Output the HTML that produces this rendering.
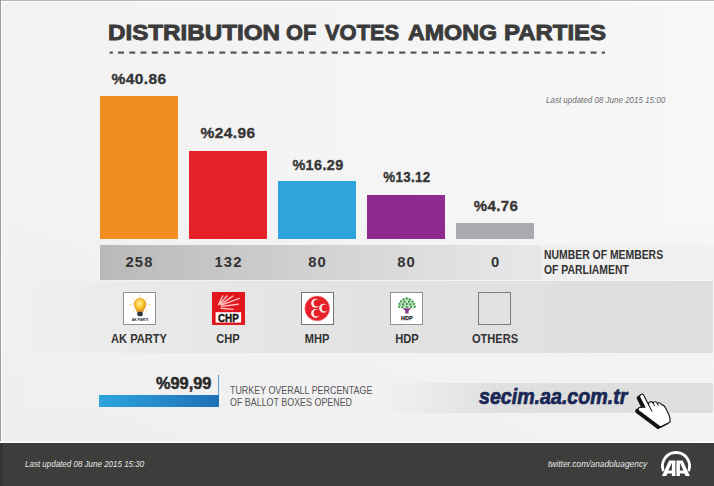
<!DOCTYPE html>
<html><head><meta charset="utf-8">
<style>
*{margin:0;padding:0;box-sizing:border-box}
html,body{width:714px;height:486px;overflow:hidden;background:#f4f4f4}
body{background:linear-gradient(180deg,rgba(0,0,0,0) 0%,rgba(0,0,0,0) 40%,rgba(0,0,0,0.02) 100%),linear-gradient(90deg,#f2f2f2 0%,#f4f4f4 45%,#f7f7f7 100%)}
body{position:relative;font-family:"Liberation Sans",sans-serif}
.a{position:absolute;white-space:nowrap}
.bar{position:absolute;width:78px;bottom:247px}
.pct{position:absolute;font-weight:bold;font-size:15.5px;color:#353535;letter-spacing:0.4px;-webkit-text-stroke:0.35px #353535;text-align:center;width:100px;line-height:1}
.num{position:absolute;font-weight:bold;font-size:14.8px;color:#333;letter-spacing:1.2px;text-indent:1.2px;text-align:center;width:80px;line-height:1;top:254.5px}
.lbl{position:absolute;font-weight:bold;font-size:12.2px;color:#333;text-align:center;width:100px;line-height:1;top:333px;transform:scaleX(0.91)}
.box{position:absolute;top:292px;width:33px;height:33px;border:1.5px solid #929292;background:#fff}
.t{top:21.5px;font-size:22.2px;font-weight:bold;color:#3b3b3b;line-height:1;-webkit-text-stroke:0.9px #3b3b3b;transform-origin:0 0}
</style></head><body>
<!-- frame -->
<div class="a" style="left:0;top:0;width:714px;height:1px;background:#b5b5b5"></div>
<div class="a" style="left:0;top:1px;width:714px;height:1px;background:#fff"></div>
<div class="a" style="left:0;top:0;width:1px;height:486px;background:#9a9a9a"></div>
<div class="a" style="left:1px;top:1px;width:1px;height:440px;background:#fff"></div>

<!-- title -->
<div id="title"><div class="a t" style="left:107.99px;transform:scaleX(1.0897)">DISTRIBUTION</div><div class="a t" style="left:286.09px;transform:scaleX(0.9788)">OF</div><div class="a t" style="left:325.00px;transform:scaleX(0.9867)">VOTES</div><div class="a t" style="left:408.41px;transform:scaleX(1.0468)">AMONG</div><div class="a t" style="left:504.00px;transform:scaleX(1.0800)">PARTIES</div></div>
<svg class="a" style="left:0;top:0" width="714" height="60" fill="#555"><rect x="109.6" y="51.5" width="3.2" height="2.2"/><rect x="118.00" y="51.5" width="6" height="2.2"/><rect x="129.25" y="51.5" width="6" height="2.2"/><rect x="140.50" y="51.5" width="6" height="2.2"/><rect x="151.75" y="51.5" width="6" height="2.2"/><rect x="163.00" y="51.5" width="6" height="2.2"/><rect x="174.25" y="51.5" width="6" height="2.2"/><rect x="185.50" y="51.5" width="6" height="2.2"/><rect x="196.75" y="51.5" width="6" height="2.2"/><rect x="208.00" y="51.5" width="6" height="2.2"/><rect x="219.25" y="51.5" width="6" height="2.2"/><rect x="230.50" y="51.5" width="6" height="2.2"/><rect x="241.75" y="51.5" width="6" height="2.2"/><rect x="253.00" y="51.5" width="6" height="2.2"/><rect x="264.25" y="51.5" width="6" height="2.2"/><rect x="275.50" y="51.5" width="6" height="2.2"/><rect x="286.75" y="51.5" width="6" height="2.2"/><rect x="298.00" y="51.5" width="6" height="2.2"/><rect x="309.25" y="51.5" width="6" height="2.2"/><rect x="320.50" y="51.5" width="6" height="2.2"/><rect x="331.75" y="51.5" width="6" height="2.2"/><rect x="343.00" y="51.5" width="6" height="2.2"/><rect x="354.25" y="51.5" width="6" height="2.2"/><rect x="365.50" y="51.5" width="6" height="2.2"/><rect x="376.75" y="51.5" width="6" height="2.2"/><rect x="388.00" y="51.5" width="6" height="2.2"/><rect x="399.25" y="51.5" width="6" height="2.2"/><rect x="410.50" y="51.5" width="6" height="2.2"/><rect x="421.75" y="51.5" width="6" height="2.2"/><rect x="433.00" y="51.5" width="6" height="2.2"/><rect x="444.25" y="51.5" width="6" height="2.2"/><rect x="455.50" y="51.5" width="6" height="2.2"/><rect x="466.75" y="51.5" width="6" height="2.2"/><rect x="478.00" y="51.5" width="6" height="2.2"/><rect x="489.25" y="51.5" width="6" height="2.2"/><rect x="500.50" y="51.5" width="6" height="2.2"/><rect x="511.75" y="51.5" width="6" height="2.2"/><rect x="523.00" y="51.5" width="6" height="2.2"/><rect x="534.25" y="51.5" width="6" height="2.2"/><rect x="545.50" y="51.5" width="6" height="2.2"/><rect x="556.75" y="51.5" width="6" height="2.2"/><rect x="568.00" y="51.5" width="6" height="2.2"/><rect x="579.25" y="51.5" width="6" height="2.2"/><rect x="590.50" y="51.5" width="6" height="2.2"/><rect x="601.7" y="51.5" width="3.2" height="2.2"/></svg>

<div class="a" style="left:546px;top:96px;font-size:9.3px;font-style:italic;color:#707070;line-height:1;transform-origin:0 0;transform:scaleX(0.86)">Last updated 08 June 2015 15:00</div>

<!-- bars -->
<div class="bar" style="left:100px;top:96px;height:143px;background:#f18d21"></div>
<div class="bar" style="left:189px;top:151px;height:88px;background:#e62129"></div>
<div class="bar" style="left:278px;top:181px;height:58px;background:#2ea3dc"></div>
<div class="bar" style="left:367px;top:195px;height:44px;background:#912a8f"></div>
<div class="bar" style="left:456px;top:223px;height:16px;background:#a9aaad"></div>

<div class="pct" style="left:89px;top:71px">%40.86</div>
<div class="pct" style="left:178px;top:125px">%24.96</div>
<div class="pct" style="left:268px;top:157px;transform:scaleX(0.93)">%16.29</div>
<div class="pct" style="left:357px;top:169px;transform:scaleX(0.86)">%13.12</div>
<div class="pct" style="left:446px;top:198px;transform:scaleX(0.97)">%4.76</div>

<!-- numbers band -->
<div class="a" style="left:100px;top:245px;width:441px;height:35px;background:linear-gradient(90deg,#b9b9b9 0%,#cdcdcd 40%,#dedede 75%,#e8e8e8 100%)"></div>
<div class="a" style="left:541px;top:245px;width:173px;height:35px;background:linear-gradient(90deg,#eeeeee 0%,#f1f1f1 100%)"></div>
<div class="num" style="left:99px">258</div>
<div class="num" style="left:188px">132</div>
<div class="num" style="left:277px">80</div>
<div class="num" style="left:366px">80</div>
<div class="num" style="left:455px">0</div>
<div class="a" style="left:544px;top:248px;font-size:11.9px;font-weight:bold;color:#333;line-height:14.5px;transform-origin:0 0;transform:scaleX(0.875)">NUMBER OF MEMBERS<br>OF PARLIAMENT</div>

<!-- logos band -->
<div class="a" style="left:2px;top:281px;width:711px;height:72px;background:linear-gradient(90deg,#f1f1f1 0%,#eaeaea 18%,#e3e3e3 45%,#dedede 100%)"></div>
<div class="box" style="left:123px"></div>
<div class="box" style="left:212px;border:none;background:#e31e24"></div>
<div class="box" style="left:301px;border-color:#777"></div>
<div class="box" style="left:390px"></div>
<div class="box" style="left:478px;background:transparent;border-color:#7a7a7a"></div>

<div class="lbl" style="left:89px">AK PARTY</div>
<div class="lbl" style="left:178px">CHP</div>
<div class="lbl" style="left:267px">MHP</div>
<div class="lbl" style="left:357px">HDP</div>
<div class="lbl" style="left:445px">OTHERS</div>

<!-- ballot -->
<div class="a" style="left:99px;top:395px;width:120px;height:12px;background:linear-gradient(90deg,#2ea5df,#1f6fb6)"></div>
<div class="a" style="left:218px;top:375px;width:1.2px;height:20px;background:#5fa0cc"></div>
<div class="a" style="left:156px;top:376px;font-size:16px;font-weight:bold;color:#2a2a2a;line-height:1;-webkit-text-stroke:0.5px #2a2a2a;transform-origin:0 0;transform:scaleX(1.02)">%99,99</div>
<div class="a" style="left:230px;top:384.5px;font-size:10.2px;color:#555;line-height:12px;transform-origin:0 0;transform:scaleX(0.874)">TURKEY OVERALL PERCENTAGE<br>OF BALLOT BOXES OPENED</div>

<!-- secim band -->
<div class="a" style="left:380px;top:383px;width:333px;height:30px;background:linear-gradient(90deg,rgba(223,223,223,0) 0%,#dfdfdf 36%,#dedede 100%)"></div>
<div class="a" style="left:479px;top:386px;font-size:21.8px;font-weight:bold;font-style:italic;color:#192755;line-height:1;-webkit-text-stroke:0.7px #192755;transform-origin:0 0;transform:scaleX(0.9)">secim.aa.com.tr</div>

<!-- footer -->
<div class="a" style="left:0;top:441px;width:714px;height:2px;background:#fafafa"></div>
<div class="a" style="left:0;top:443px;width:714px;height:43px;background:#3d3d3b"></div>
<div class="a" style="left:0;top:443px;width:2px;height:43px;background:#333331"></div>
<div class="a" style="left:25px;top:459.5px;font-size:9.3px;font-style:italic;color:#e8e8e8;line-height:1;transform-origin:0 0;transform:scaleX(0.86)">Last updated 08 June 2015 15:30</div>
<div class="a" style="left:548px;top:459.5px;font-size:9px;font-style:italic;color:#e8e8e8;line-height:1;transform-origin:0 0;transform:scaleX(0.93)">twitter.com/anadoluagency</div>

<!-- logo svgs -->
<svg class="a" style="left:0;top:0" width="714" height="486">
 <defs>
  <radialGradient id="bulb" cx="0.45" cy="0.4" r="0.6"><stop offset="0" stop-color="#fff0a0"/><stop offset="0.55" stop-color="#f9c62e"/><stop offset="1" stop-color="#e08a18"/></radialGradient>
 </defs>
 <!-- AK -->
 <g stroke="#f2cf78" stroke-width="1" stroke-linecap="round" opacity="0.8">
  <line x1="140" y1="295" x2="140" y2="296.6"/>
  <line x1="133" y1="297.8" x2="134.3" y2="299"/>
  <line x1="147" y1="297.8" x2="145.7" y2="299"/>
  <line x1="129.8" y1="304.5" x2="131.6" y2="304.5"/>
  <line x1="150.2" y1="304.5" x2="148.4" y2="304.5"/>
  <line x1="132.8" y1="311" x2="134.2" y2="309.8"/>
  <line x1="147.2" y1="311" x2="145.8" y2="309.8"/>
 </g>
 <path d="M134,304.2 A6,6 0 1 1 146,304.2 C146,307.2 143.6,308.8 143,311.8 L137,311.8 C136.4,308.8 134,307.2 134,304.2 Z" fill="url(#bulb)" stroke="#d68a1a" stroke-width="0.5"/>
 <rect x="137.3" y="311.8" width="5.4" height="4.4" rx="1.4" fill="#2b3440"/>
 <text x="140" y="320.6" font-size="3.6" font-weight="bold" fill="#1d2340" text-anchor="middle" font-family="Liberation Sans">AK PARTİ</text>
 <!-- CHP -->
 <rect x="212" y="292" width="32.4" height="32.4" fill="#e2171e"/>
 <rect x="215.6" y="312.2" width="25.5" height="10.4" fill="#fff"/>
 <text x="228.4" y="322" font-size="10.8" font-weight="bold" fill="#111" stroke="#111" stroke-width="0.35" text-anchor="middle" font-family="Liberation Sans" transform="translate(228.4,0) scale(0.92,1) translate(-228.4,0)">CHP</text>
 <g stroke="#ffc4c4" stroke-width="1.4" stroke-linecap="round">
  <line x1="218.5" y1="304.6" x2="222.7" y2="296"/>
  <line x1="219.7" y1="304.2" x2="226.9" y2="296"/>
  <line x1="221" y1="304.4" x2="232.7" y2="296.2"/>
  <line x1="221.4" y1="305.2" x2="239.3" y2="298.4"/>
  <line x1="221.8" y1="306.4" x2="238.2" y2="304.2"/>
  <line x1="221" y1="308.3" x2="233.2" y2="309.4"/>
 </g>
 <!-- MHP -->
 <circle cx="317.2" cy="308.4" r="12.4" fill="#e8202a" stroke="#f08a8a" stroke-width="0.6"/>
 <g fill="#fbe6e6">
  <circle cx="315.6" cy="303.2" r="4.5"/><circle cx="323.6" cy="308.3" r="4.5"/><circle cx="315.6" cy="313.4" r="4.5"/>
 </g>
 <g fill="#e8202a">
  <circle cx="317.2" cy="302.9" r="3.5"/><circle cx="325.2" cy="308" r="3.5"/><circle cx="317.2" cy="313.1" r="3.5"/>
 </g>
 <!-- HDP -->
 <path d="M398,308.5 C397.5,302 401.5,297 406.8,297 C412,297 416,302 415.6,308.5 Z" fill="#cbe8cb"/>
 <g fill="#2e8b3e">
  <circle cx="406.8" cy="298.5" r="1"/><circle cx="403.5" cy="299.5" r="1"/><circle cx="410" cy="299.5" r="1"/>
  <circle cx="401" cy="301.5" r="1"/><circle cx="404.5" cy="301.8" r="1.1"/><circle cx="409" cy="301.8" r="1.1"/><circle cx="412.5" cy="301.5" r="1"/>
  <circle cx="399.5" cy="304" r="1"/><circle cx="403" cy="304.3" r="1.1"/><circle cx="406.8" cy="304" r="1.1"/><circle cx="410.5" cy="304.3" r="1.1"/><circle cx="414" cy="304" r="1"/>
  <circle cx="399" cy="306.8" r="1"/><circle cx="402.5" cy="307" r="1"/><circle cx="406.8" cy="306.8" r="1"/><circle cx="411" cy="307" r="1"/><circle cx="414.8" cy="306.8" r="1"/>
 </g>
 <g fill="#7fd08a" opacity="0.8">
  <circle cx="405" cy="300" r="0.7"/><circle cx="408.5" cy="300" r="0.7"/><circle cx="401.5" cy="303" r="0.7"/><circle cx="405" cy="303" r="0.7"/><circle cx="408.5" cy="303" r="0.7"/><circle cx="412" cy="303" r="0.7"/><circle cx="401" cy="305.5" r="0.7"/><circle cx="404.8" cy="305.5" r="0.7"/><circle cx="408.8" cy="305.5" r="0.7"/><circle cx="412.8" cy="305.5" r="0.7"/>
 </g>
 <path d="M402.8,308.3 L411,308.3 L408.6,310.8 L408.6,313.6 L405.2,313.6 L405.2,310.8 Z" fill="#8e3d8e"/>
 <text x="406.8" y="320.3" font-size="5.4" font-weight="bold" fill="#222" stroke="#222" stroke-width="0.25" text-anchor="middle" font-family="Liberation Sans">HDP</text>
 <!-- hand cursor -->
 <g transform="translate(640.8,394.3) rotate(-27)">
  <path transform="translate(-2.9,0.4)" d="M-2.2,2.4 A2.2,2.2 0 0 1 2.2,2.4 L2.2,12.8 Q2.8,10.9 5,11 Q7,11.2 7,13.5 Q8,12.6 9.2,13 Q10.6,13.6 10.6,15.6 Q11.6,15.2 12.6,16 Q13.6,16.8 13.6,18.5 Q15.8,19.5 15.8,23.5 L15.8,31 Q15.6,35 13.5,38 L2.5,38 L-8.5,15.5 Q-10.5,12 -8,11.2 Q-6,10.8 -2.2,13.5 Z" fill="#111" stroke="#111" stroke-width="1"/>
  <path d="M-2.2,2.4 A2.2,2.2 0 0 1 2.2,2.4 L2.2,12.8 Q2.8,10.9 5,11 Q7,11.2 7,13.5 Q8,12.6 9.2,13 Q10.6,13.6 10.6,15.6 Q11.6,15.2 12.6,16 Q13.6,16.8 13.6,18.5 Q15.8,19.5 15.8,23.5 L15.8,31 Q15.6,35 13.5,38 L2.5,38 L-8.5,15.5 Q-10.5,12 -8,11.2 Q-6,10.8 -2.2,13.5 Z" fill="#fff" stroke="#111" stroke-width="1.1" stroke-linejoin="round"/>
  <path d="M2.2,12.8 L2.2,20.5 M7,13.5 L7,16.8 M10.6,15.6 L10.6,18.3" stroke="#111" stroke-width="0.9" fill="none"/>
 </g>
 <!-- AA logo -->
 <path d="M663.57,471.27 A13.5,13.5 0 1 1 688.43,471.27" fill="none" stroke="#fff" stroke-width="2.8"/>
 <path fill="#fff" stroke="#3d3d3b" stroke-width="0.9" paint-order="stroke" fill-rule="evenodd" d="M661.9,476.1 L669.1,460.4 L675.4,460.4 L675.4,476.1 L671.9,476.1 L671.9,473.5 L667.5,473.5 L666.3,476.1 Z M668.3,470.4 L671.9,462.8 L671.9,470.4 Z"/>
 <path fill="#fff" stroke="#3d3d3b" stroke-width="0.9" paint-order="stroke" fill-rule="evenodd" d="M676.4,460.4 L682.7,460.4 L689.9,476.1 L685.5,476.1 L684.3,473.5 L679.9,473.5 L679.9,476.1 L676.4,476.1 Z M679.9,462.8 L683.4,470.4 L679.9,470.4 Z"/>
</svg>
</body></html>
